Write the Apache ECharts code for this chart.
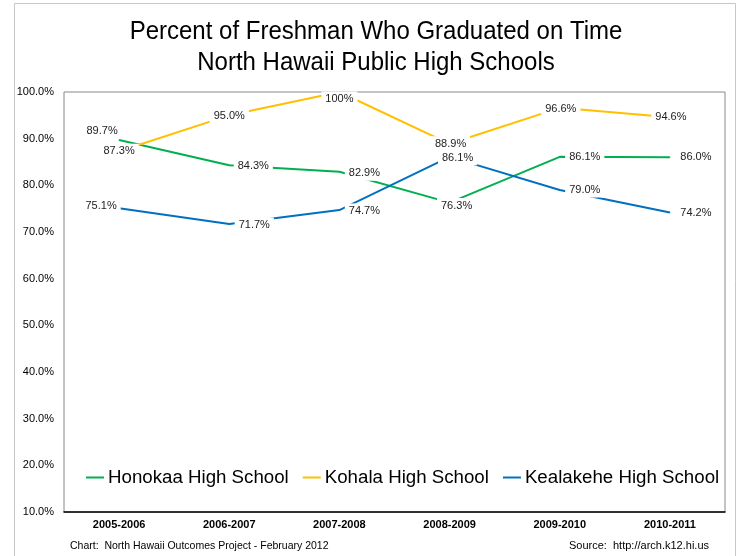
<!DOCTYPE html>
<html>
<head>
<meta charset="utf-8">
<script src="https://cdn.jsdelivr.net/npm/echarts@6/dist/echarts.min.js"></script>
<style>
html,body{margin:0;padding:0;background:#fff;}
#chart{width:743px;height:556px;}
</style>
</head>
<body>
<div id="chart"></div>
<script>
var categories = ['2005-2006','2006-2007','2007-2008','2008-2009','2009-2010','2010-2011'];
var honokaa = [89.7, 84.3, 82.9, 76.3, 86.1, 86.0];
var kohala = [87.3, 95.0, 100, 88.9, 96.6, 94.6];
var kealakehe = [75.1, 71.7, 74.7, 86.1, 79.0, 74.2];
var seriesNames = ['Honokaa High School','Kohala High School','Kealakehe High School'];
var titleLines = ['Percent of Freshman Who Graduated on Time','North Hawaii Public High Schools'];
var footLeft = 'Chart:  North Hawaii Outcomes Project - February 2012';
var footRight = 'Source:  http://arch.k12.hi.us';

var FONT = '"Liberation Sans", Arial, sans-serif';
function fmt(v){ return v === 100 ? '100%' : v.toFixed(1) + '%'; }

// label centre shift from its point, in px (style, not data)
var shiftHonokaa = [[-17,-9],[24,1],[25,1.5],[7,3],[25,0],[26,0]];
var shiftKohala = [[0,0],[0,1],[0,7],[1,0],[1,1],[1,0]];
var shiftKealakehe = [[-18,-2],[25,1],[25,1],[8,1],[25,0],[26,1]];

function buildData(vals, shifts){
  return vals.map(function(v,i){
    var s = shifts[i];
    return {value: v, label: {position: [s[0] + 0.5, s[1] + 0.5], align: 'center', verticalAlign: 'middle'}};
  });
}

function mkSeries(name, vals, shifts, color){
  return {
    name: name, type: 'line', data: buildData(vals, shifts),
    symbol: 'circle', symbolSize: 1, showSymbol: true,
    lineStyle: {color: color, width: 2},
    itemStyle: {color: color},
    z: 2,
    label: {
      show: true, formatter: function(p){ return fmt(p.value); },
      fontFamily: FONT, fontSize: 11, color: '#222',
      backgroundColor: '#fff', padding: [2, 4]
    },
    labelLayout: {hideOverlap: false},
    emphasis: {disabled: true}
  };
}

var chart = echarts.init(document.getElementById('chart'), null, {renderer: 'canvas'});
chart.setOption({
  animation: false,
  backgroundColor: '#fff',
  grid: {left: 64, right: 18, top: 92, bottom: 44, show: true, borderColor: '#888', borderWidth: 1, backgroundColor: 'transparent'},
  xAxis: {
    type: 'category', data: categories, boundaryGap: true,
    axisTick: {show: false},
    axisLine: {lineStyle: {color: '#000', width: 1.5}},
    axisLabel: {fontFamily: FONT, fontSize: 11, fontWeight: 'bold', color: '#000', margin: 7},
    splitLine: {show: false}
  },
  yAxis: {
    type: 'value', min: 10, max: 100, interval: 10,
    axisLine: {show: false}, axisTick: {show: false},
    splitLine: {show: false},
    axisLabel: {fontFamily: FONT, fontSize: 11, color: '#000', margin: 10, formatter: function(v){ return v.toFixed(1) + '%'; }}
  },
  legend: {
    data: seriesNames, left: 81, top: 463, itemGap: 14,
    itemWidth: 18, itemHeight: 10,
    icon: 'path://M0,4 L18,4 L18,6 L0,6 Z',
    textStyle: {fontFamily: FONT, fontSize: 18.7, color: '#000', padding: [0,0,0,-1]}
  },
  graphic: [
    {type: 'rect', shape: {x: 14.5, y: 3.5, width: 721, height: 560}, style: {fill: 'none', stroke: '#c8c8c8', lineWidth: 1}, silent: true},
    {type: 'text', x: 376, y: 32, scaleY: 1.08, style: {text: titleLines[0], font: '24px ' + FONT, fill: '#000', align: 'center', verticalAlign: 'middle'}},
    {type: 'text', x: 376, y: 63, scaleY: 1.08, style: {text: titleLines[1], font: '24px ' + FONT, fill: '#000', align: 'center', verticalAlign: 'middle'}},
    {type: 'text', x: 70, y: 546, style: {text: footLeft, font: '10.5px ' + FONT, fill: '#000', align: 'left', verticalAlign: 'middle'}},
    {type: 'text', x: 709, y: 546, style: {text: footRight, font: '11px ' + FONT, fill: '#000', align: 'right', verticalAlign: 'middle'}}
  ],
  series: [
    mkSeries(seriesNames[0], honokaa, shiftHonokaa, '#00b050'),
    mkSeries(seriesNames[1], kohala, shiftKohala, '#ffc000'),
    mkSeries(seriesNames[2], kealakehe, shiftKealakehe, '#0070c0')
  ]
});
</script>
</body>
</html>
